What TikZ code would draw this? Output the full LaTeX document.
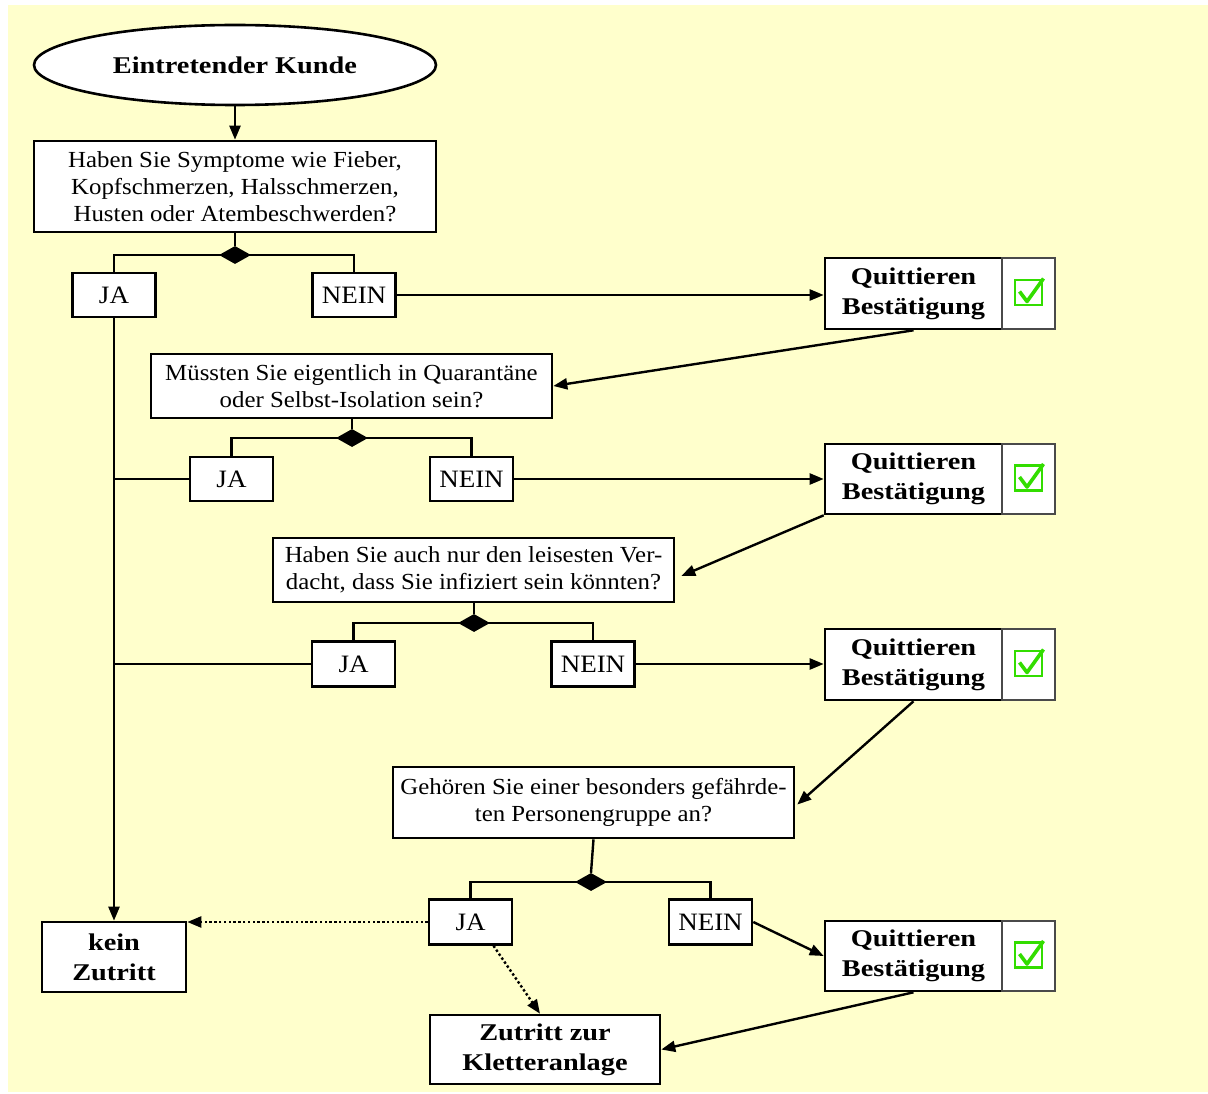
\documentclass[tikz,border=0pt]{standalone}
\usepackage{fontspec}
\setmainfont{Liberation Serif}[FakeStretch=1.08]
\newfontfamily\bfnt{Liberation Serif Bold}[FakeStretch=1.18]
\usetikzlibrary{arrows.meta,shapes.geometric}
\definecolor{bgyel}{HTML}{FFFFCC}
\definecolor{chkgreen}{HTML}{33DD00}
\definecolor{cgrey}{HTML}{4A4A4A}
\begin{document}
\begin{tikzpicture}[x=1pt,y=-1pt,
  box/.style={draw, fill=white, line width=2.6pt, inner sep=0pt, align=center,
    font=\fontsize{23}{27}\selectfont},
  yn/.style={box, minimum width=83pt, minimum height=44pt, font=\fontsize{25}{28}\selectfont},
  qbox/.style={box, minimum width=177pt, minimum height=71pt, font=\bfnt\fontsize{24}{30}\selectfont},
  endbox/.style={box, font=\bfnt\fontsize{24}{30}\selectfont},
  chkbox/.style={draw=cgrey, fill=white, line width=2.4pt, minimum width=53pt, minimum height=71pt, inner sep=0pt},
  startel/.style={ellipse, draw, fill=white, line width=2.6pt, minimum width=402pt, minimum height=80pt,
    inner sep=0pt, font=\bfnt\fontsize{24}{28}\selectfont},
  dia/.style={diamond, fill=black, minimum width=32pt, minimum height=18pt, inner sep=0pt},
  ln/.style={line width=2.4pt},
  arr/.style={ln, -{Triangle[length=14pt,width=11pt]}},
  dotarr/.style={ln, dash pattern=on 2.4pt off 2.4pt, -{Triangle[length=14pt,width=11pt]}},
  chk/.pic={
    \draw[chkgreen, line width=2.6pt] (-13.5,-13.5) rectangle (13.5,11.5);
    \draw[chkgreen, line width=3.6pt, line join=round] (-9,-2) -- (-1.5,8) -- (15,-15);
  }
]
\useasboundingbox (0,0) rectangle (1208,1094);
\fill[bgyel] (8,5) rectangle (1208,1092);

% nodes
\node[startel] (start) at (235,65) {Eintretender Kunde};
\node[box, minimum width=402pt, minimum height=91pt] (q1) at (235,186.5)
  {Haben Sie Symptome wie Fieber,\\Kopfschmerzen, Halsschmerzen,\\Husten oder Atembeschwerden?};
\node[dia] (d1) at (235,255) {};
\node[yn] (ja1) at (114,295) {JA};
\node[yn] (nein1) at (354,295) {NEIN};
\node[qbox] (Q1) at (913.5,293.5) {Quittieren\\Bestätigung};
\node[chkbox] (c1) at (1028.5,293.5) {};

\node[box, minimum width=401pt, minimum height=64pt] (q2) at (351.5,386)
  {Müssten Sie eigentlich in Quarantäne\\oder Selbst-Isolation sein?};
\node[dia] (d2) at (352,438) {};
\node[yn] (ja2) at (231.5,479) {JA};
\node[yn] (nein2) at (471.5,479) {NEIN};
\node[qbox, minimum height=70pt] (Q2) at (913.5,479) {Quittieren\\Bestätigung};
\node[chkbox, minimum height=70pt] (c2) at (1028.5,479) {};

\node[box, minimum width=401pt, minimum height=64pt] (q3) at (473.5,570)
  {Haben Sie auch nur den leisesten Ver-\\dacht, dass Sie infiziert sein könnten?};
\node[dia] (d3) at (474,623) {};
\node[yn, minimum height=45pt] (ja3) at (353.5,664) {JA};
\node[yn, minimum height=45pt] (nein3) at (593,664) {NEIN};
\node[qbox] (Q3) at (913.5,664.5) {Quittieren\\Bestätigung};
\node[chkbox] (c3) at (1028.5,664.5) {};

\node[box, minimum width=401pt, minimum height=71pt] (q4) at (593.5,802.5)
  {Gehören Sie einer besonders gefährde-\\ten Personengruppe an?};
\node[dia] (d4) at (591,882) {};
\node[yn, minimum height=45pt] (ja4) at (470.5,922) {JA};
\node[yn, minimum height=45pt] (nein4) at (710.5,922) {NEIN};
\node[qbox, minimum height=70pt] (Q4) at (913.5,956) {Quittieren\\Bestätigung};
\node[chkbox, minimum height=70pt] (c4) at (1028.5,956) {};

\node[endbox, minimum width=144pt, minimum height=70pt] (kein) at (114,957) {kein\\Zutritt};
\node[endbox, minimum width=230pt, minimum height=69pt] (zut) at (545,1049.5) {Zutritt zur\\Kletteranlage};

% check marks
\pic at (c1) {chk};
\pic at (c2) {chk};
\pic at (c3) {chk};
\pic at (c4) {chk};

% connectors
\draw[arr] (start.south) -- (q1.north);
\draw[ln] (q1.south) -- (d1.north);
\draw[ln] (ja1.north) |- (d1.center) -| (nein1.north);
\draw[arr] (nein1.east) -- (nein1.east -| Q1.west);
\draw[arr] (Q1.south) -- (q2.east);
\draw[arr] (ja1.south) -- (kein.north);

\draw[ln] (d2.north |- q2.south) -- (d2.north);
\draw[ln] (ja2.north) |- (d2.center) -| (nein2.north);
\draw[ln] (ja2.west) -- (ja2.west -| ja1.south);
\draw[arr] (nein2.east) -- (nein2.east -| Q2.west);
\draw[arr] (Q2.south west) -- ([xshift=6pt,yshift=-6pt]q3.east);

\draw[ln] (d3.north |- q3.south) -- (d3.north);
\draw[ln] (ja3.north) |- (d3.center) -| (nein3.north);
\draw[ln] (ja3.west) -- (ja3.west -| ja1.south);
\draw[arr] (nein3.east) -- (nein3.east -| Q3.west);
\draw[arr] (Q3.south) -- ([xshift=2pt,yshift=-2pt]q4.east);

\draw[ln] (q4.south) -- (d4.north);
\draw[ln] (ja4.north) |- (d4.center) -| (nein4.north);
\draw[dotarr] (ja4.west) -- (ja4.west -| kein.east);
\draw[dotarr] ([xshift=23pt]ja4.south) -- ([xshift=-5pt]zut.north);
\draw[arr] (nein4.east) -- (Q4.west);
\draw[arr] (Q4.south) -- (zut.east);
\end{tikzpicture}
\end{document}
